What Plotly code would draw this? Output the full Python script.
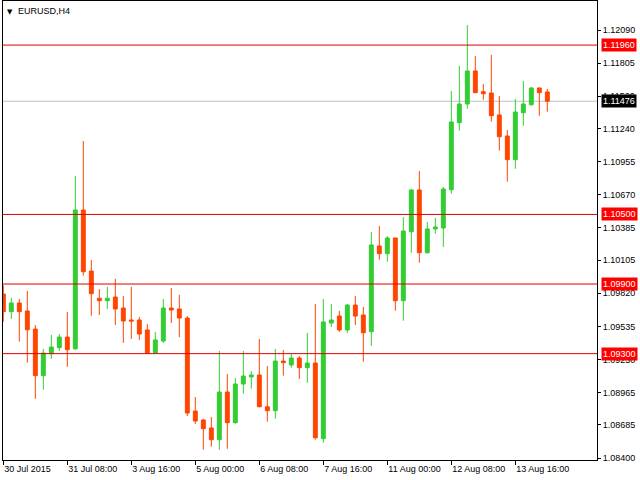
import plotly.graph_objects as go

# ---- data (EURUSD, H4) ----
idx = list(range(69))
opens = [1.09814, 1.09662, 1.09737, 1.09668, 1.09512, 1.09110, 1.09299, 1.09351, 1.09443, 1.09342,
         1.10538, 1.10012, 1.09777, 1.09756, 1.09788, 1.09693, 1.09590, 1.09590, 1.09504, 1.09305,
         1.09409, 1.09693, 1.09685, 1.09607, 1.08805, 1.08728, 1.08659, 1.08558, 1.08969, 1.08705,
         1.09038, 1.09099, 1.09116, 1.08842, 1.08808, 1.09236, 1.09202, 1.09262, 1.09179, 1.09219,
         1.08567, 1.09564, 1.09624, 1.09504, 1.09719, 1.09633, 1.09489, 1.10228, 1.10162, 1.10297,
         1.09756, 1.10351, 1.10711, 1.10170, 1.10375, 1.10383, 1.10713, 1.11291, 1.11452, 1.11737,
         1.11558, 1.11547, 1.11358, 1.11176, 1.10972, 1.11377, 1.11446, 1.11590, 1.11556]
highs = [1.09889, 1.09780, 1.09771, 1.09840, 1.09547, 1.09340, 1.09461, 1.09469, 1.09659, 1.10832,
         1.11133, 1.10107, 1.09857, 1.09875, 1.09944, 1.09797, 1.09875, 1.09616, 1.09556, 1.09487,
         1.09771, 1.09866, 1.09806, 1.09624, 1.08926, 1.08736, 1.08754, 1.09323, 1.09124, 1.09090,
         1.09323, 1.09150, 1.09426, 1.09193, 1.09340, 1.09331, 1.09297, 1.09280, 1.09478, 1.09728,
         1.09771, 1.09728, 1.09668, 1.09728, 1.09797, 1.09702, 1.10349, 1.10400, 1.10314, 1.10300,
         1.10478, 1.10719, 1.10875, 1.10435, 1.10469, 1.10737, 1.11564, 1.11780, 1.12133, 1.11866,
         1.11625, 1.11875, 1.11521, 1.11228, 1.11495, 1.11651, 1.11599, 1.11595, 1.11582]
lows = [1.09575, 1.09599, 1.09403, 1.09222, 1.08911, 1.08989, 1.09254, 1.09323, 1.09187, 1.09330,
        1.09972, 1.09627, 1.09633, 1.09685, 1.09547, 1.09392, 1.09426, 1.09418, 1.09300, 1.09300,
        1.09392, 1.09564, 1.09443, 1.08762, 1.08693, 1.08472, 1.08498, 1.08472, 1.08480, 1.08696,
        1.08955, 1.08998, 1.08838, 1.08713, 1.08739, 1.09110, 1.09179, 1.09081, 1.09049, 1.08558,
        1.08532, 1.09530, 1.09487, 1.09478, 1.09547, 1.09230, 1.09368, 1.10110, 1.10093, 1.09670,
        1.09584, 1.10170, 1.10084, 1.10162, 1.10334, 1.10219, 1.10679, 1.11222, 1.11412, 1.11545,
        1.11489, 1.11300, 1.11050, 1.10782, 1.10894, 1.11265, 1.11438, 1.11351, 1.11386]
closes = [1.09662, 1.09737, 1.09662, 1.09506, 1.09110, 1.09305, 1.09357, 1.09443, 1.09334, 1.10538,
          1.10006, 1.09817, 1.09756, 1.09777, 1.09685, 1.09581, 1.09581, 1.09469, 1.09305, 1.09418,
          1.09693, 1.09676, 1.09607, 1.08788, 1.08719, 1.08653, 1.08558, 1.08969, 1.08705, 1.09038,
          1.09107, 1.09116, 1.08842, 1.08808, 1.09236, 1.09222, 1.09262, 1.09179, 1.09219, 1.08575,
          1.09573, 1.09590, 1.09504, 1.09719, 1.09624, 1.09480, 1.10237, 1.10162, 1.10297, 1.09756,
          1.10357, 1.10711, 1.10170, 1.10375, 1.10392, 1.10719, 1.11297, 1.11452, 1.11737, 1.11550,
          1.11541, 1.11351, 1.11170, 1.10972, 1.11383, 1.11452, 1.11590, 1.11550, 1.11476]

x_tick_idx = [0, 8, 16, 24, 32, 40, 48, 56, 64]
x_tick_text = ["30 Jul 2015", "31 Jul 08:00", "3 Aug 16:00", "5 Aug 00:00", "6 Aug 08:00",
               "7 Aug 16:00", "11 Aug 00:00", "12 Aug 08:00", "13 Aug 16:00"]
y_tick_vals = [1.12090, 1.11805, 1.11520, 1.11240, 1.10955, 1.10670, 1.10385, 1.10105,
               1.09820, 1.09535, 1.09250, 1.08965, 1.08685, 1.08400]
y_tick_text = ["%.5f" % v for v in y_tick_vals]
h_levels = [1.11960, 1.10500, 1.09900, 1.09300]
current_price = 1.11476
title = "EURUSD,H4"

FONT = "Liberation Sans, Arial, sans-serif"
GREEN = "#32CD32"
RED = "#FF4500"

fig = go.Figure(go.Candlestick(
    x=idx, open=opens, high=highs, low=lows, close=closes,
    increasing=dict(fillcolor=GREEN, line=dict(color=GREEN, width=1)),
    decreasing=dict(fillcolor=RED, line=dict(color=RED, width=1)),
    whiskerwidth=0, hoverinfo="skip", showlegend=False,
))

shapes = []
annotations = []
for lv in h_levels:
    shapes.append(dict(type="line", xref="paper", x0=0, x1=1, yref="y", y0=lv, y1=lv,
                       line=dict(color="#E00000", width=1), layer="above"))
    annotations.append(dict(xref="paper", x=1, xanchor="left", xshift=4, yref="y", y=lv,
                            yanchor="middle", text="%.5f" % lv, showarrow=False,
                            bgcolor="#FF0000", borderpad=1,
                            font=dict(family=FONT, size=9, color="white")))
shapes.append(dict(type="line", xref="paper", x0=0, x1=1, yref="y", y0=current_price,
                   y1=current_price, line=dict(color="#C0C0C0", width=1), layer="below"))
annotations.append(dict(xref="paper", x=1, xanchor="left", xshift=4, yref="y", y=current_price,
                        yanchor="middle", text="%.5f" % current_price, showarrow=False,
                        bgcolor="black", borderpad=1,
                        font=dict(family=FONT, size=9, color="white")))
annotations.append(dict(xref="paper", x=0, xanchor="left", xshift=2, yref="paper", y=1,
                        yanchor="middle", yshift=-11, text="▼", showarrow=False,
                        font=dict(family="DejaVu Sans", size=7, color="black")))
annotations.append(dict(xref="paper", x=0, xanchor="left", xshift=13, yref="paper", y=1,
                        yanchor="middle", yshift=-10, text=title, showarrow=False,
                        font=dict(family=FONT, size=9, color="black")))

fig.update_layout(
    width=640, height=480, autosize=False,
    margin=dict(l=3, r=43, t=1, b=20),
    paper_bgcolor="white", plot_bgcolor="white",
    font=dict(family=FONT, size=9, color="black"),
    shapes=shapes, annotations=annotations,
    hovermode=False,
    xaxis=dict(range=[-0.04, 74.21], rangeslider=dict(visible=False), showgrid=False,
               zeroline=False, showline=True, linecolor="black", linewidth=1, mirror=True,
               tickmode="array", tickvals=x_tick_idx, ticktext=x_tick_text,
               ticks="outside", ticklen=4, tickcolor="black", ticklabelposition="outside right",
               tickfont=dict(family=FONT, size=9, color="black")),
    yaxis=dict(range=[1.08383, 1.12340], side="right", showgrid=False, zeroline=False,
               showline=True, linecolor="black", linewidth=1, mirror=True,
               tickmode="array", tickvals=y_tick_vals, ticktext=y_tick_text,
               ticks="outside", ticklen=3, tickcolor="black",
               tickfont=dict(family=FONT, size=9, color="black")),
)

fig.write_html("out.html", config={"displayModeBar": False})
